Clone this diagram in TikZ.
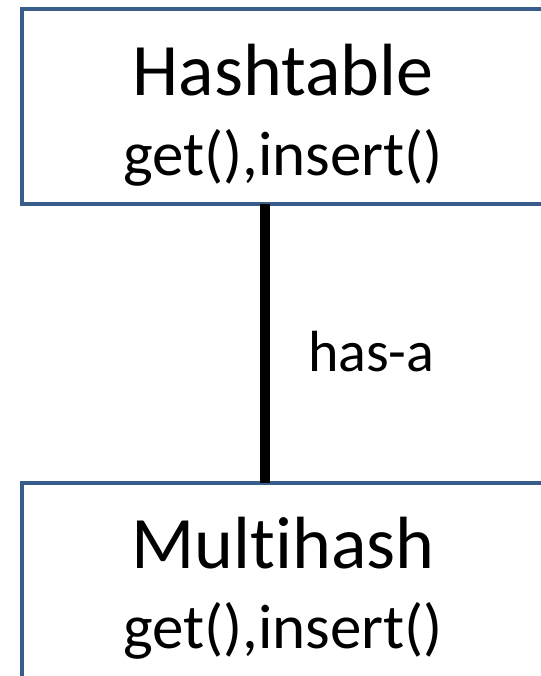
\documentclass[tikz,border=0pt]{standalone}
\usepackage{fontspec}
\setmainfont[Ligatures=NoCommon]{Carlito}
\usetikzlibrary{positioning}
\definecolor{boxblue}{HTML}{385D8A}
\newcommand{\classname}[1]{\rule{0pt}{68bp}{\fontsize{74bp}{80bp}\selectfont #1}}
\tikzset{
class/.style={draw=boxblue, line width=4bp, minimum width=521bp, minimum height=195bp, inner sep=0pt, align=center, font=\fontsize{63bp}{80bp}\selectfont}, % the two class boxes
relation/.style={line width=10bp, shorten <=-2bp, shorten >=-2bp}, % the thick has-a line
}

\begin{document}
\begin{tikzpicture}[x=1bp, y=1bp]
        \useasboundingbox (0,0) rectangle (541,676);
        \node[class] (hash) at (283,569) {\classname{Hashtable}\\get(),insert()};
        \node[class, below=274bp of hash] (multi) {\classname{Multihash}\\get(),insert()};

        \draw[relation] ([xshift=-18bp]hash.south) -- node[right=38bp, inner sep=0pt, yshift=-8bp, font=\fontsize{58bp}{70bp}\selectfont] (hasa) {has-a} ([xshift=-18bp]multi.north);
      \end{tikzpicture}
\end{document}
